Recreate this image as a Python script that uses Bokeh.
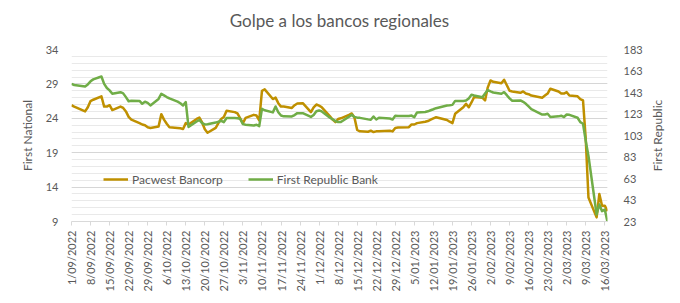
import math
import pandas as pd
from bokeh.plotting import figure
from bokeh.models import Range1d, LinearAxis, FixedTicker, Legend, LegendItem, Title, Label
from bokeh.embed import file_html
from bokeh.resources import INLINE

# ---------------- data ----------------
holidays = ["2022-09-05", "2022-11-24", "2022-12-26", "2023-01-02", "2023-01-16", "2023-02-20"]
dates = pd.bdate_range("2022-09-01", "2023-03-17", freq="C", holidays=holidays)

pacwest = [
    # Sep 2022
    25.9, 25.7, 25.0, 25.6, 26.5, 26.7, 27.2, 25.7, 25.7, 25.9, 25.2, 25.7, 25.5, 25.0, 24.2, 23.8,
    23.3, 23.1, 23.0, 22.7, 22.6,
    # Oct 2022
    22.8, 24.6, 23.8, 23.2, 22.7, 22.6, 22.55, 22.45, 23.3, 23.1, 23.9, 24.1, 23.4, 22.4, 21.9,
    22.6, 23.3, 23.9, 24.2, 25.1, 24.9,
    # Nov 2022
    24.7, 24.0, 23.3, 24.05, 24.5, 24.4, 23.7, 28.0, 28.2, 26.8, 27.0, 26.2, 25.7, 25.7, 25.5,
    25.9, 26.15, 26.2, 24.9, 25.6, 26.0,
    # Dec 2022
    25.85, 25.6, 24.3, 23.8, 23.45, 23.9, 24.0, 24.5, 24.7, 24.1, 22.3, 22.1, 22.05, 22.2, 22.0,
    22.1, 22.1, 22.2, 22.1, 22.6, 22.65,
    # Jan 2023
    22.7, 23.1, 23.1, 23.3, 23.5, 23.6, 23.8, 24.0, 24.15, 23.75, 23.5, 23.3, 24.65, 25.6, 26.1,
    25.6, 26.3, 27.1, 27.0, 26.6,
    # Feb 2023
    28.5, 29.5, 29.3, 29.1, 29.6, 28.8, 28.0, 27.9, 27.7, 27.9, 27.6, 27.5, 27.3, 27.0, 27.3,
    27.6, 28.3, 27.9, 27.6,
    # Mar 2023
    27.6, 27.8, 27.3, 27.2, 26.8, 26.6, 21.0, 12.5, 9.6, 13.0, 11.3, 11.3, 10.5,
]

first_republic = [
    # Sep 2022
    151.0, 150.0, 148.6, 150.5, 153.4, 155.2, 157.9, 151.0, 147.2, 145.0, 141.8, 143.3, 142.2,
    138.7, 134.9, 135.4, 135.2, 132.5, 134.4, 133.3, 131.0,
    # Oct 2022
    137.0, 141.8, 140.3, 138.8, 137.5, 134.5, 133.0, 131.0, 134.0, 111.0, 116.0, 117.4, 114.5,
    113.3, 113.5, 115.0, 115.8, 116.7, 115.4, 119.3, 119.2,
    # Nov 2022
    119.1, 118.5, 113.6, 113.0, 112.3, 113.0, 111.7, 127.8, 126.5, 124.5, 130.0, 124.7, 121.6,
    120.8, 120.7, 122.0, 123.8, 123.8, 120.3, 122.0, 125.5,
    # Dec 2022
    126.3, 125.4, 119.5, 118.0, 116.5, 115.5, 115.6, 120.5, 122.2, 120.3, 119.6, 119.4, 118.0,
    117.6, 120.7, 117.9, 119.5, 118.8, 117.9, 121.4, 121.2,
    # Jan 2023
    121.2, 121.5, 120.0, 124.5, 124.8, 125.5, 126.5, 127.4, 128.4, 130.9, 131.1, 131.5, 135.2,
    135.2, 135.5, 137.5, 140.9, 140.2, 138.6, 142.0,
    # Feb 2023
    145.3, 144.0, 143.0, 141.8, 143.3, 140.5, 137.5, 135.3, 135.6, 134.3, 132.5, 130.0, 127.5,
    122.5, 122.6, 123.2, 120.2, 120.8, 121.4,
    # Mar 2023
    120.2, 122.5, 122.2, 119.5, 115.4, 113.9, 98.0, 84.0, 29.5, 38.8, 32.6, 34.2, 22.5,
]

tick_labels = [
    "1/09/2022", "8/09/2022", "15/09/2022", "22/09/2022", "29/09/2022", "6/10/2022",
    "13/10/2022", "20/10/2022", "27/10/2022", "3/11/2022", "10/11/2022", "17/11/2022",
    "24/11/2022", "1/12/2022", "8/12/2022", "15/12/2022", "22/12/2022", "29/12/2022",
    "5/01/2023", "12/01/2023", "19/01/2023", "26/01/2023", "2/02/2023", "9/02/2023",
    "16/02/2023", "23/02/2023", "2/03/2023", "9/03/2023", "16/03/2023",
]
left_ticks = [9, 14, 19, 24, 29, 34]
right_ticks = [23, 43, 63, 83, 103, 123, 143, 163, 183]

title_text = "Golpe a los bancos regionales"
left_label = "First National"
right_label = "First Republic"
series_names = ["Pacwest Bancorp", "First Republic Bank"]

# ---------------- build ----------------
start = pd.Timestamp("2022-09-01")
end = pd.Timestamp("2023-03-17")
xs = [(d - start).days for d in dates]
tick_pos = [(pd.to_datetime(t, format="%d/%m/%Y") - start).days for t in tick_labels]

FONT = "Lato"
TXT = "#595959"
GOLD = "#BF9000"
GREEN = "#70AD47"

p = figure(width=680, height=303, output_backend="svg", toolbar_location=None,
           x_range=Range1d(0, (end - start).days), y_range=Range1d(left_ticks[0], left_ticks[-1]),
           min_border_left=71, min_border_right=73, min_border_top=49, min_border_bottom=82,
           title=title_text)
p.title.text_font = FONT
p.title.text_font_size = "17px"
p.title.text_font_style = "normal"
p.title.text_color = TXT
p.title.align = "center"
p.title.standoff = 0
p.outline_line_color = None
p.background_fill_color = "white"
p.border_fill_color = "white"

# blank spacer between the title and the plot area
p.add_layout(Title(text=" ", text_font_size="2px", standoff=15), "above")

p.extra_y_ranges = {"fr": Range1d(right_ticks[0], right_ticks[-1])}

# grid
p.xgrid.visible = False
p.ygrid[0].ticker = FixedTicker(ticks=left_ticks, minor_ticks=list(range(left_ticks[0], left_ticks[-1] + 1)))
p.ygrid[0].grid_line_color = "#d6d6d6"
p.ygrid[0].minor_grid_line_color = "#e9e9e9"

# left axis
ya = p.yaxis[0]
ya.ticker = FixedTicker(ticks=left_ticks)
ya.axis_line_color = None
ya.major_tick_line_color = None
ya.minor_tick_line_color = None
ya.major_tick_out = 0
ya.major_tick_in = 0
ya.major_label_standoff = 13
ya.major_label_text_font = FONT
ya.major_label_text_font_size = "11px"
ya.major_label_text_color = TXT
ya.axis_label = left_label
ya.axis_label_text_font = FONT
ya.axis_label_text_font_size = "12px"
ya.axis_label_text_font_style = "normal"
ya.axis_label_text_color = TXT
ya.axis_label_standoff = 8

# right axis (ticks)
ra = LinearAxis(y_range_name="fr", ticker=FixedTicker(ticks=right_ticks))
ra.axis_line_color = None
ra.major_tick_line_color = None
ra.minor_tick_line_color = None
ra.major_tick_out = 0
ra.major_tick_in = 0
ra.major_label_standoff = 16
ra.major_label_text_font = FONT
ra.major_label_text_font_size = "11px"
ra.major_label_text_color = TXT
p.add_layout(ra, "right")

# right axis title, reading bottom-to-top, centred on the plot height
rlab = Label(x=12, y=(left_ticks[0] + left_ticks[-1]) / 2, x_units="screen", y_units="data",
             text=right_label, angle=math.pi / 2, text_align="center", text_baseline="middle",
             text_font=FONT, text_font_size="12px", text_color=TXT)
p.add_layout(rlab, "right")

# bottom axis
xa = p.xaxis[0]
xa.ticker = FixedTicker(ticks=tick_pos)
xa.major_label_overrides = {pos: lab for pos, lab in zip(tick_pos, tick_labels)}
xa.major_label_orientation = math.pi / 2
xa.axis_line_color = "#d9d9d9"
xa.major_tick_line_color = "#d9d9d9"
xa.minor_tick_line_color = None
xa.major_tick_out = 4
xa.major_tick_in = 0
xa.major_label_standoff = 5
xa.major_label_text_font = FONT
xa.major_label_text_font_size = "11px"
xa.major_label_text_color = TXT

# lines
r1 = p.line(xs, pacwest, line_color=GOLD, line_width=2.5, line_join="round")
r2 = p.line(xs, first_republic, line_color=GREEN, line_width=2.5, line_join="round", y_range_name="fr")

legend = Legend(items=[LegendItem(label=series_names[0], renderers=[r1]),
                       LegendItem(label=series_names[1], renderers=[r2])],
                location=(32, 32), orientation="horizontal", glyph_width=25, glyph_height=20,
                label_standoff=4, spacing=25, padding=0, margin=0,
                border_line_color=None, background_fill_alpha=0,
                label_text_font=FONT, label_text_font_size="12px", label_text_color=TXT)
p.add_layout(legend)

open("out.html", "w").write(file_html(p, INLINE))
